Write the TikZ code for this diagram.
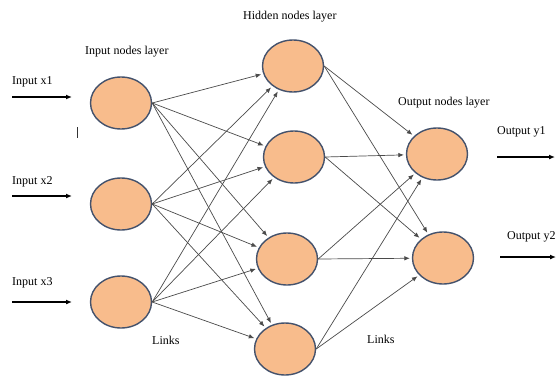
\documentclass[tikz,border=0pt]{standalone}
\usepackage{fontspec}
\setmainfont{Liberation Serif}
\usetikzlibrary{shapes.geometric,arrows.meta}
\definecolor{nodefill}{HTML}{F8BC8C}
\definecolor{nodeline}{HTML}{44526C}
\definecolor{linkcol}{HTML}{4A4A4A}
\begin{document}
\begin{tikzpicture}[x=1pt,y=-1pt,
  neuron/.style={ellipse,draw=nodeline,fill=nodefill,line width=1.4pt,minimum width=61pt,minimum height=52pt,inner sep=0pt},
  lbl/.style={font=\fontsize{12}{14}\selectfont,inner sep=0pt,anchor=west},
  link/.style={draw=linkcol,line width=0.7pt,-{Latex[length=5.5pt,width=4.5pt]},shorten >=2pt},
  ioarrow/.style={draw=black,line width=1.6pt,-{Latex[length=6pt,width=5pt]}}]
\useasboundingbox (0,0) rectangle (556,375);
% input nodes
\node[neuron] (i1) at (121,103) {};
\node[neuron] (i2) at (121,204) {};
\node[neuron] (i3) at (121,302) {};
% hidden nodes
\node[neuron] (h1) at (293,66) {};
\node[neuron] (h2) at (294,157) {};
\node[neuron] (h3) at (287,259) {};
\node[neuron] (h4) at (285,349) {};
% output nodes
\node[neuron] (o1) at (437,154) {};
\node[neuron] (o2) at (443,258) {};
% links
\foreach \i in {i1,i2,i3}{
  \foreach \h in {h1,h2,h3,h4}{
    \draw[link] (\i.east) -- (\h);
  }
}
\foreach \h in {h1,h2,h3,h4}{
  \foreach \o in {o1,o2}{
    \draw[link] (\h.east) -- (\o);
  }
}
% labels
\node[lbl] (t1) at (85,52) {Input nodes layer};
\node[lbl] (t2) at (243,17) {Hidden nodes layer};
\node[lbl] (t3) at (398,103) {Output nodes layer};
\node[lbl] (l1) at (152,340) {Links};
\node[lbl] (l2) at (367,339) {Links};
\node[lbl] (x1l) at (12,82) {Input x1};
\node[lbl] (x2l) at (12,182) {Input x2};
\node[lbl] (x3l) at (12,283) {Input x3};
\node[lbl] (y1l) at (497,132) {Output y1};
\node[lbl] (y2l) at (507,237) {Output y2};
% input arrows
\coordinate (a1s) at (12,97); \coordinate (a1e) at (72,97);
\coordinate (a2s) at (12,196); \coordinate (a2e) at (72,196);
\coordinate (a3s) at (12,302); \coordinate (a3e) at (72,302);
\draw[ioarrow] (a1s) -- (a1e);
\draw[ioarrow] (a2s) -- (a2e);
\draw[ioarrow] (a3s) -- (a3e);
% output arrows
\coordinate (b1s) at (497,157); \coordinate (b1e) at (555,157);
\coordinate (b2s) at (500,257); \coordinate (b2e) at (556,257);
\draw[ioarrow] (b1s) -- (b1e);
\draw[ioarrow] (b2s) -- (b2e);
% stray mark
\coordinate (m1) at (77,127); \coordinate (m2) at (77,138);
\draw[line width=1pt,black!80] (m1) -- (m2);
\end{tikzpicture}
\end{document}
